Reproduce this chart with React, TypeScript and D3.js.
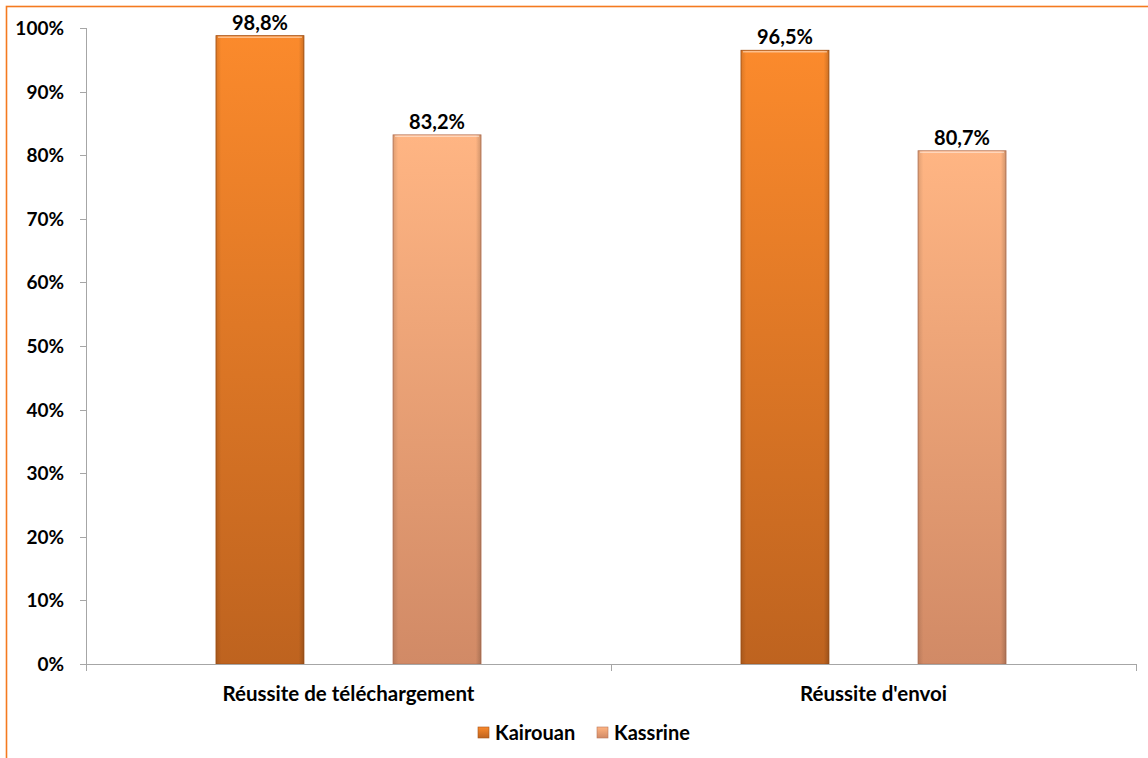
import React from "react";
import * as d3 from "d3";

const categories = ["Réussite de téléchargement", "Réussite d'envoi"];
const seriesNames = ["Kairouan", "Kassrine"];
const kairouanValues = [98.8, 96.5];
const kassrineValues = [83.2, 80.7];
const valueLabels = [["98,8%", "83,2%"], ["96,5%", "80,7%"]];
const yTicks = [0, 10, 20, 30, 40, 50, 60, 70, 80, 90, 100];

const W = 1148;
const H = 758;
const margin = { left: 86, right: 12, top: 28, bottom: 94 };
const FONT = "Lato, 'Open Sans', sans-serif";

const grads = [
  { id: "gK", top: "#FB8A2C", bottom: "#BE631F", stroke: "#A65418" },
  { id: "gS", top: "#FFB583", bottom: "#D18A66", stroke: "#B8775A" },
];

export default function App() {
  const x0 = d3
    .scaleBand<string>()
    .domain(categories)
    .range([margin.left, W - margin.right])
    .paddingInner(0)
    .paddingOuter(0);
  const x1 = d3
    .scaleBand<string>()
    .domain(seriesNames)
    .range([0, x0.bandwidth()])
    .paddingInner(0.503)
    .paddingOuter(0.734);
  const y = d3.scaleLinear().domain([0, 100]).range([H - margin.bottom, margin.top]);

  const values = [kairouanValues, kassrineValues];
  const axisColor = "#A6A6A6";
  const y0 = y(0);
  const xEnd = W - margin.right;

  return (
    <svg
      width={W}
      height={H}
      style={{ position: "absolute", left: 0, top: 0, background: "#fff" }}
    >
      <defs>
        {grads.map((g) => (
          <linearGradient key={g.id} id={g.id} x1="0" y1="0" x2="0" y2="1">
            <stop offset="0" stopColor={g.top} />
            <stop offset="1" stopColor={g.bottom} />
          </linearGradient>
        ))}
        <linearGradient id="edge" x1="0" y1="0" x2="1" y2="0">
          <stop offset="0" stopColor="#000" stopOpacity="0.12" />
          <stop offset="0.06" stopColor="#000" stopOpacity="0" />
          <stop offset="0.94" stopColor="#000" stopOpacity="0" />
          <stop offset="1" stopColor="#000" stopOpacity="0.18" />
        </linearGradient>
      </defs>
      <rect x={6.5} y={6.5} width={W + 20} height={H + 20} fill="#fff" stroke="#F47A1F" strokeWidth={1.6} />

      {/* y axis */}
      <line x1={margin.left + 0.5} x2={margin.left + 0.5} y1={y(100)} y2={y0 + 7} stroke={axisColor} strokeWidth={1} />
      {yTicks.map((t) => (
        <g key={t}>
          <line x1={margin.left - 6} x2={margin.left} y1={Math.round(y(t)) + 0.5} y2={Math.round(y(t)) + 0.5} stroke={axisColor} />
          <text
            x={64}
            y={y(t) + 7}
            textAnchor="end"
            fontFamily={FONT}
            fontWeight={700}
            fontSize={19}
            fill="#000"
          >
            {t}%
          </text>
        </g>
      ))}

      {/* bars */}
      {categories.map((c, ci) =>
        seriesNames.map((s, si) => {
          const v = values[si][ci];
          const bx = (x0(c) as number) + (x1(s) as number);
          const bw = x1.bandwidth();
          const by = y(v);
          const bh = y0 - by;
          const g = grads[si];
          return (
            <g key={c + s}>
              <rect x={bx} y={by} width={bw} height={bh} fill={`url(#${g.id})`} stroke={g.stroke} strokeWidth={0.8} />
              <rect x={bx} y={by} width={bw} height={bh} fill="url(#edge)" />
              <line x1={bx + 2} x2={bx + bw - 2} y1={by + 1.5} y2={by + 1.5} stroke="#fff" strokeOpacity={0.45} strokeWidth={1.5} />
              <text
                x={bx + bw / 2}
                y={by - 6}
                textAnchor="middle"
                fontFamily={FONT}
                fontWeight={700}
                fontSize={20}
                fill="#000"
              >
                {valueLabels[ci][si]}
              </text>
            </g>
          );
        })
      )}

      {/* x axis */}
      <line x1={margin.left} x2={xEnd} y1={y0 + 0.5} y2={y0 + 0.5} stroke={axisColor} />
      {[margin.left, (x0(categories[1]) as number), xEnd].map((xx, i) => (
        <line key={i} x1={Math.round(xx) + 0.5} x2={Math.round(xx) + 0.5} y1={y0} y2={y0 + 7} stroke={axisColor} />
      ))}
      {categories.map((c) => (
        <text
          key={c}
          x={(x0(c) as number) + x0.bandwidth() / 2}
          y={y0 + 37}
          textAnchor="middle"
          fontFamily={FONT}
          fontWeight={700}
          fontSize={20.5}
          fill="#000"
        >
          {c}
        </text>
      ))}

      {/* legend */}
      {seriesNames.map((s, si) => {
        const lx = [478, 597][si];
        const g = grads[si];
        return (
          <g key={s}>
            <rect x={lx} y={727} width={11} height={11} fill={`url(#${g.id})`} stroke={g.stroke} strokeWidth={0.6} />
            <text x={lx + 17} y={740} fontFamily={FONT} fontWeight={700} fontSize={20} fill="#000">
              {s}
            </text>
          </g>
        );
      })}
    </svg>
  );
}
